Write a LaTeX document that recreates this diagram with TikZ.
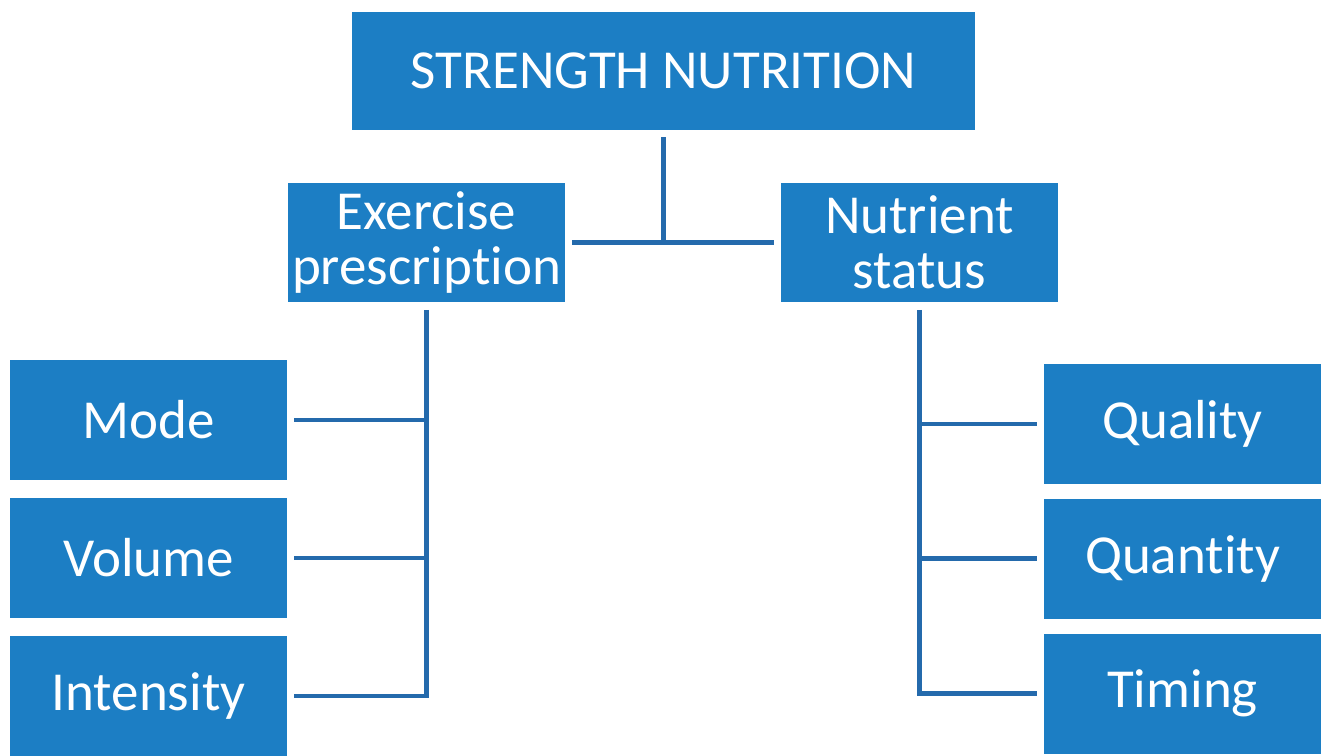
\documentclass[tikz,border=0pt]{standalone}
\usepackage{fontspec}
\setmainfont{Carlito}[Ligatures=NoCommon]
\definecolor{boxblue}{RGB}{28,126,196}
\definecolor{lineblue}{RGB}{36,106,172}

\begin{document}
\begin{tikzpicture}[
    x=0.02cm, y=-0.02cm,
    topic/.style={
        rectangle, fill=boxblue, text=white,
        minimum width=5.54cm, minimum height=2.4cm,
        align=center, inner sep=0pt,
        font=\fontsize{31.3pt}{31pt}\selectfont
    },
    link/.style={line width=2.4pt, draw=lineblue}
]
\useasboundingbox (0,0) rectangle (1325,755);

% Root
\node[topic, minimum width=12.46cm, minimum height=2.36cm] (strength) at (663.5, 71) {STRENGTH NUTRITION};

% Branches
\node[topic] (exercise) at (426.5, 242.5) {Exercise\\prescription};
\node[topic] (nutrient) at (919.5, 242.5) {Nutrient\\status};

% Leaves
\node[topic] (mode) at (148.5, 420) {Mode};
\node[topic] (volume) at (148.5, 558) {Volume};
\node[topic] (intensity) at (148.5, 696) {Intensity};
\node[topic] (quality) at (1182.5, 424) {Quality};
\node[topic] (quantity) at (1182.5, 558.5) {Quantity};
\node[topic] (timing) at (1182.5, 693.5) {Timing};

% Connectors
\draw[link] ([yshift=-0.14cm]strength.south) -- (strength.south |- exercise.east);
\draw[link] ([xshift=0.14cm]exercise.east) -- ([xshift=-0.14cm]nutrient.west);
\draw[link] ([yshift=-0.14cm]exercise.south) -- (exercise.south |- intensity.east) -- ([xshift=0.14cm]intensity.east);
\draw[link] ([xshift=0.14cm]mode.east) -- (exercise.south |- mode.east);
\draw[link] ([xshift=0.14cm]volume.east) -- (exercise.south |- volume.east);
\draw[link] ([yshift=-0.14cm]nutrient.south) -- (nutrient.south |- timing.west) -- ([xshift=-0.14cm]timing.west);
\draw[link] ([xshift=-0.14cm]quality.west) -- (nutrient.south |- quality.west);
\draw[link] ([xshift=-0.14cm]quantity.west) -- (nutrient.south |- quantity.west);

\end{tikzpicture}
\end{document}
